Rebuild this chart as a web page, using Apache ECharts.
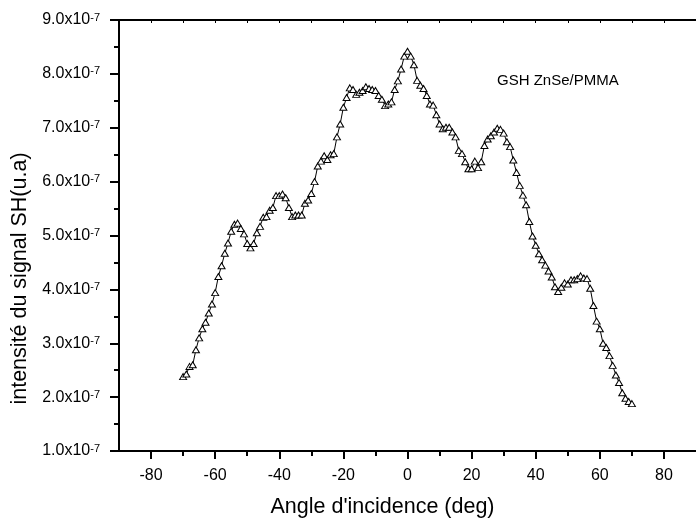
<!DOCTYPE html>
<html><head><meta charset="utf-8">
<script src="https://cdn.jsdelivr.net/npm/echarts@6/dist/echarts.min.js"></script>
<style>html,body{margin:0;padding:0;background:#fff}#c{width:696px;height:523px}</style>
</head><body><div id="c"></div>
<script>
// Angle of incidence (deg)
const angles = [-70,-69,-68,-67,-66,-65,-64,-63,-62,-61,-60,-59,-58,-57,-56,-55,-54,-53,-52,-51,
  -50,-49,-48,-47,-46,-45,-44,-43,-42,-41,-40,-39,-38,-37,-36,-35,-34,-33,-32,-31,
  -30,-29,-28,-27,-26,-25,-24,-23,-22,-21,-20,-19,-18,-17,-16,-15,-14,-13,-12,-11,
  -10,-9,-8,-7,-6,-5,-4,-3,-2,-1,0,1,2,3,4,5,6,7,8,9,
  10,11,12,13,14,15,16,17,18,19,20,21,22,23,24,25,26,27,28,29,
  30,31,32,33,34,35,36,37,38,39,40,41,42,43,44,45,46,47,48,49,
  50,51,52,53,54,55,56,57,58,59,60,61,62,63,64,65,66,67,68,69,70];
// SH signal intensity, in units of 1e-7 (u.a)
const signal = [2.38,2.43,2.57,2.60,2.88,3.10,3.27,3.39,3.56,3.73,3.94,4.24,4.44,4.67,4.86,5.08,5.21,5.23,5.13,5.03,
  4.85,4.77,4.85,5.05,5.17,5.34,5.35,5.47,5.52,5.74,5.74,5.77,5.70,5.52,5.35,5.38,5.38,5.38,5.60,5.66,
  5.78,6.00,6.29,6.38,6.48,6.41,6.50,6.52,6.83,7.07,7.38,7.56,7.74,7.71,7.62,7.66,7.69,7.76,7.73,7.71,
  7.69,7.60,7.53,7.41,7.44,7.48,7.71,7.87,8.09,8.33,8.42,8.33,8.17,7.88,7.79,7.73,7.60,7.44,7.42,7.24,
  7.07,6.98,7.01,7.01,6.92,6.83,6.58,6.52,6.37,6.24,6.24,6.38,6.26,6.37,6.67,6.79,6.85,6.92,6.99,6.97,
  6.90,6.74,6.65,6.40,6.17,5.93,5.75,5.57,5.26,4.99,4.82,4.66,4.55,4.45,4.34,4.23,4.05,3.96,4.04,4.12,
  4.10,4.18,4.18,4.20,4.25,4.21,4.20,4.02,3.70,3.41,3.27,3.00,2.92,2.77,2.59,2.41,2.27,2.08,1.98,1.92,1.88];
const SCALE = 1e-7;
const xTicks = [-80,-60,-40,-20,0,20,40,60,80];
const xMinorTicks = [-70,-50,-30,-10,10,30,50,70];
const yTickLabels = ['1.0','2.0','3.0','4.0','5.0','6.0','7.0','8.0','9.0'];
const seriesName = 'GSH ZnSe/PMMA';
const xTitle = "Angle d'incidence (deg)";
const yTitle = 'intensité du signal SH(u.a)';

const FONT = 'Liberation Sans, Arial, sans-serif';
const chart = echarts.init(document.getElementById('c'));
const axisLine = {show: true, onZero: false, lineStyle: {color: '#000', width: 2}};
chart.setOption({
  animation: false,
  backgroundColor: '#fff',
  title: {text: seriesName, left: 492, top: 68,
    textStyle: {fontFamily: FONT, fontSize: 15, fontWeight: 'normal', color: '#000'}},
  grid: {left: 119, top: 20, right: -9, bottom: 68},
  xAxis: [
    {type: 'value', position: 'bottom', min: -90, max: 90,
     axisLine: axisLine,
     axisTick: {show: true, customValues: xTicks, length: 8, lineStyle: {color: '#000', width: 2}},
     axisLabel: {show: true, customValues: xTicks, margin: 17, fontFamily: FONT, fontSize: 16, color: '#000'},
     splitLine: {show: false},
     name: xTitle, nameLocation: 'middle', nameGap: 45,
     nameTextStyle: {fontFamily: FONT, fontSize: 21.5, color: '#000', padding: [0, 50, 0, 0]}},
    {type: 'value', position: 'bottom', min: -90, max: 90,
     axisLine: {show: false, onZero: false},
     axisTick: {show: true, customValues: xMinorTicks, length: 5, lineStyle: {color: '#000', width: 2}},
     axisLabel: {show: false}, splitLine: {show: false}},
    {type: 'value', position: 'top', min: -90, max: 90, interval: 10,
     axisLine: axisLine,
     axisTick: {show: true, inside: true, length: 3, lineStyle: {color: '#000', width: 1}},
     axisLabel: {show: false}, splitLine: {show: false}}
  ],
  yAxis: {type: 'value', position: 'left', min: 1 * SCALE, max: 9 * SCALE, interval: SCALE,
    axisLine: axisLine,
    axisTick: {show: true, length: 9, lineStyle: {color: '#000', width: 2}},
    minorTick: {show: true, splitNumber: 2, length: 5, lineStyle: {color: '#000', width: 2}},
    splitLine: {show: false},
    axisLabel: {margin: 19, formatter: function (v) {
        const idx = Math.round(v / SCALE) - 1;
        return '{a|' + yTickLabels[idx] + 'x10}{b|-7}';
      },
      rich: {a: {fontFamily: FONT, fontSize: 16, color: '#000'},
             b: {fontFamily: FONT, fontSize: 11, color: '#000', verticalAlign: 'top'}}},
    name: yTitle, nameLocation: 'middle', nameGap: 86,
    nameTextStyle: {fontFamily: FONT, fontSize: 21.5, color: '#000', padding: [0, 86, 0, 0]}},
  series: [{
    name: seriesName, type: 'line', xAxisIndex: 0,
    data: angles.map((a, i) => [a, signal[i] * SCALE]),
    symbol: 'triangle', symbolSize: [7, 6], showAllSymbol: true,
    lineStyle: {color: '#000', width: 1},
    itemStyle: {color: '#fff', borderColor: '#000', borderWidth: 1}
  }]
});
</script></body></html>
